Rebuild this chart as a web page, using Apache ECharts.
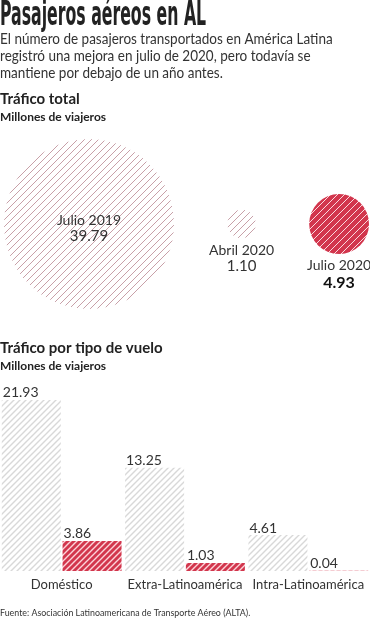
<!DOCTYPE html>
<html><head><meta charset="utf-8">
<script src="https://cdn.jsdelivr.net/npm/echarts@6/dist/echarts.min.js"></script>
<style>html,body{margin:0;padding:0;background:#fff}#c{width:370px;height:620px}</style>
</head><body><div id="c"></div>
<script>
// ---- data ----
const periods = ['Julio 2019', 'Abril 2020', 'Julio 2020'];
const totals = [39.79, 1.10, 4.93];
const flightTypes = ['Doméstico', 'Extra-Latinoamérica', 'Intra-Latinoamérica'];
const values2019 = [21.93, 13.25, 4.61];
const values2020 = [3.86, 1.03, 0.04];

const RED = '#d2364d';
const TXT = '#333333';
const BODY = 'Lato, "Open Sans", sans-serif';

// diagonal hatch pattern ("/")
function hatch(bg, stripe, size, lw) {
  const c = document.createElement('canvas');
  c.width = size; c.height = size;
  const g = c.getContext('2d');
  g.fillStyle = bg; g.fillRect(0, 0, size, size);
  g.strokeStyle = stripe; g.lineWidth = lw;
  g.beginPath();
  g.moveTo(-1, size + 1); g.lineTo(size + 1, -1);
  g.moveTo(-1, 1); g.lineTo(1, -1);
  g.moveTo(size - 1, size + 1); g.lineTo(size + 1, size - 1);
  g.stroke();
  return { image: c, repeat: 'repeat' };
}
const patLight = hatch('#ffffff', '#c8a0a8', 7, 1);
const patRedCircle = hatch(RED, 'rgba(255,236,240,0.9)', 7, 1);
const patGray = hatch('#ffffff', '#d8d8d8', 6, 1.4);
const patRedBar = hatch(RED, 'rgba(255,220,226,0.95)', 6, 1.4);

// bubble layout: packed horizontally, area proportional to value
const maxD = 170, left0 = 4, right0 = 369;
const maxV = Math.max(...totals);
const diam = totals.map(v => maxD * Math.sqrt(v / maxV));
const gap = (right0 - left0 - diam.reduce((a, b) => a + b, 0)) / (totals.length - 1);
let cursor = left0;
const bubbleCx = totals.map((v, i) => { const cx = cursor + diam[i] / 2; cursor += diam[i] + gap; return cx; });
const bubbleData = totals.map((v, i) => [bubbleCx[i], 0, v]);
const bubbleFill = [patLight, patLight, patRedCircle];

function renderBubble(params, api) {
  const i = params.dataIndex;
  const p = api.coord([api.value(0), api.value(1)]);
  const r = maxD / 2 * Math.sqrt(api.value(2) / maxV);
  const inside = i === 0;
  const ny = inside ? p[1] - 4 : p[1] + r + 12;
  const vy = ny + 16;
  return {
    type: 'group',
    children: [
      { type: 'circle', shape: { cx: p[0], cy: p[1], r: r }, style: { fill: bubbleFill[i] } },
      { type: 'text', x: p[0], y: ny, style: { text: periods[i], align: 'center', verticalAlign: 'middle', fill: TXT, font: '14px ' + BODY } },
      { type: 'text', x: p[0], y: vy + (i === 2 ? 1 : 0), style: { text: api.value(2).toFixed(2), align: 'center', verticalAlign: 'middle', fill: i === 2 ? '#111' : TXT, font: (i === 2 ? 'bold 16px ' : '15px ') + BODY } }
    ]
  };
}

const chart = echarts.init(document.getElementById('c'), null, { renderer: 'canvas' });
chart.setOption({
  animation: false,
  graphic: [
    { type: 'text', x: 0, y: 0, scaleX: 0.53, originX: 0, style: { text: 'Pasajeros aéreos en AL', font: 'bold 33px "Liberation Sans Narrow", "DejaVu Sans Condensed", sans-serif', fill: '#222' } },
    { type: 'text', x: 0, y: 31, scaleX: 0.9, style: { text: 'El número de pasajeros transportados en América Latina\nregistró una mejora en julio de 2020, pero todavía se\nmantiene por debajo de un año antes.', font: '15px ' + BODY, fill: TXT, lineHeight: 17 } },
    { type: 'text', x: 0, y: 92, style: { text: 'Tráfico total', font: 'bold 15px ' + BODY, fill: '#222' } },
    { type: 'text', x: 0, y: 111, style: { text: 'Millones de viajeros', font: 'bold 12px ' + BODY, fill: '#222' } },
    { type: 'text', x: 0, y: 341, style: { text: 'Tráfico por tipo de vuelo', font: 'bold 15px ' + BODY, fill: '#222' } },
    { type: 'text', x: 0, y: 360, style: { text: 'Millones de viajeros', font: 'bold 12px ' + BODY, fill: '#222' } },
    { type: 'text', x: 0, y: 608, scaleX: 0.885, style: { text: 'Fuente: Asociación Latinoamericana de Transporte Aéreo (ALTA).', font: '10px ' + BODY, fill: TXT } }
  ],
  grid: [
    { left: 0, right: 0, top: 139, height: 170 },
    { left: -3, right: -2, top: 376, bottom: 49 }
  ],
  xAxis: [
    { gridIndex: 0, type: 'value', min: 0, max: 370, show: false },
    { gridIndex: 1, type: 'category', data: flightTypes, axisLine: { show: false }, axisTick: { show: false },
      axisLabel: { color: TXT, fontSize: 13, fontFamily: BODY, margin: 7, interval: 0 } }
  ],
  yAxis: [
    { gridIndex: 0, type: 'value', min: -1, max: 1, show: false },
    { gridIndex: 1, type: 'value', min: 0, max: 25, show: false }
  ],
  series: [
    {
      type: 'custom', xAxisIndex: 0, yAxisIndex: 0,
      data: bubbleData, renderItem: renderBubble, silent: true
    },
    {
      type: 'bar', xAxisIndex: 1, yAxisIndex: 1, name: '2019',
      data: values2019, barWidth: 59, barGap: '3%',
      itemStyle: { color: patGray },
      label: { show: true, position: [1, -14], color: TXT, fontSize: 14, fontFamily: BODY, formatter: p => p.value.toFixed(2) },
      emphasis: { disabled: true }
    },
    {
      type: 'bar', xAxisIndex: 1, yAxisIndex: 1, name: '2020',
      data: values2020, barWidth: 59, barGap: '3%',
      itemStyle: { color: patRedBar },
      label: { show: true, position: [1, -14], color: TXT, fontSize: 14, fontFamily: BODY, formatter: p => p.value.toFixed(2) },
      emphasis: { disabled: true }
    }
  ]
});
</script></body></html>
